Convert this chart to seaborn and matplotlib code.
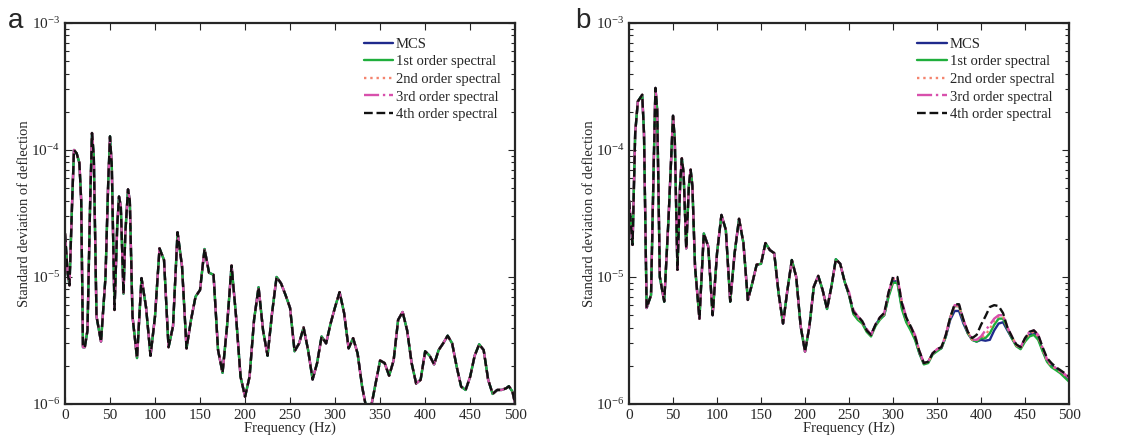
import numpy as np
import pandas as pd
import seaborn as sns
import matplotlib
matplotlib.use("Agg")
import matplotlib.pyplot as plt
from matplotlib.ticker import LogLocator, MultipleLocator

# standard deviation of deflection vs frequency, two load cases (a, b)

freq_a = [0, 3, 5, 8, 10, 13, 16, 18, 20, 22, 25, 28, 30, 32, 35, 40, 45, 48, 50, 52,
          55, 58, 60, 62, 65, 67, 70, 72, 75, 80, 85, 90, 95, 100, 105, 110, 115, 120,
          125, 130, 135, 140, 145, 150, 155, 160, 165, 170, 175, 180, 185, 190, 195,
          200, 205, 210, 215, 220, 225, 230, 235, 240, 245, 250, 255, 260, 265, 270,
          275, 280, 285, 290, 295, 300, 305, 310, 315, 320, 325, 330, 335, 340, 345,
          350, 355, 360, 365, 370, 375, 380, 385, 390, 395, 400, 405, 410, 415, 420,
          425, 430, 435, 440, 445, 450, 455, 460, 465, 470, 475, 480, 485, 490, 493,
          497, 500]
sd_a = [2.2e-5, 1.07e-5, 8.6e-6, 4.0e-5, 1.0e-4, 9.4e-5, 7.9e-5, 4.0e-5, 2.8e-6, 2.8e-6,
        3.8e-6, 4.0e-5, 1.36e-4, 8.9e-5, 4.9e-6, 3.1e-6, 1.0e-5, 5.5e-5, 1.28e-4, 7.4e-5,
        5.5e-6, 2.5e-5, 4.3e-5, 3.6e-5, 7.4e-6, 2.2e-5, 4.9e-5, 4.0e-5, 4.9e-6, 2.3e-6,
        9.8e-6, 5.8e-6, 2.4e-6, 4.9e-6, 1.68e-5, 1.36e-5, 2.8e-6, 4.1e-6, 2.25e-5,
        1.21e-5, 2.74e-6, 4.6e-6, 7.0e-6, 7.9e-6, 1.66e-5, 1.08e-5, 1.04e-5, 2.66e-6,
        1.76e-6, 4.1e-6, 1.23e-5, 4.9e-6, 1.64e-6, 1.14e-6, 1.64e-6, 4.6e-6, 8.3e-6,
        3.8e-6, 2.4e-6, 5.2e-6, 1.0e-5, 8.9e-6, 7.2e-6, 5.7e-6, 2.6e-6, 3.0e-6, 4.0e-6,
        2.66e-6, 1.56e-6, 2.1e-6, 3.4e-6, 3.0e-6, 4.3e-6, 5.8e-6, 7.6e-6, 5.2e-6,
        2.74e-6, 3.3e-6, 2.5e-6, 1.37e-6, 9.0e-7, 9.5e-7, 1.45e-6, 2.2e-6, 2.1e-6,
        1.67e-6, 2.2e-6, 4.6e-6, 5.3e-6, 3.8e-6, 2.1e-6, 1.45e-6, 1.55e-6, 2.6e-6,
        2.4e-6, 2.05e-6, 2.66e-6, 3.0e-6, 3.45e-6, 3.0e-6, 1.97e-6, 1.37e-6, 1.29e-6,
        1.64e-6, 2.4e-6, 2.95e-6, 2.66e-6, 1.55e-6, 1.2e-6, 1.29e-6, 1.29e-6, 1.33e-6,
        1.38e-6, 1.25e-6, 1.0e-6]

# panel b: all series agree below 250 Hz
freq_b_low = [0, 4, 7, 10, 15, 17, 20, 25, 28, 30, 32, 35, 40, 45, 50, 52, 55, 58, 60,
              62, 65, 68, 70, 72, 75, 80, 85, 90, 95, 100, 105, 110, 115, 120, 125,
              130, 135, 140, 145, 150, 155, 160, 165, 170, 175, 180, 185, 190, 195,
              200, 205, 210, 215, 220, 225, 230, 235, 240, 245]
sd_b_low = [4.0e-5, 1.79e-5, 1.36e-4, 2.41e-4, 2.72e-4, 1.36e-4, 5.7e-6, 7.2e-6, 7.4e-5,
            3.08e-4, 2.07e-4, 1.0e-5, 6.4e-6, 3.0e-5, 1.86e-4, 1.2e-4, 1.14e-5, 5.2e-5,
            8.6e-5, 6.6e-5, 1.68e-5, 5.2e-5, 7.0e-5, 5.2e-5, 1.21e-5, 4.7e-6, 2.2e-5,
            1.74e-5, 5.0e-6, 1.54e-5, 3.08e-5, 2.35e-5, 6.4e-6, 1.54e-5, 2.87e-5,
            1.85e-5, 6.6e-6, 8.9e-6, 1.25e-5, 1.27e-5, 1.85e-5, 1.63e-5, 1.54e-5,
            7.4e-6, 4.3e-6, 7.9e-6, 1.36e-5, 1.0e-5, 4.1e-6, 2.58e-6, 4.1e-6, 8.4e-6,
            1.02e-5, 7.9e-6, 5.6e-6, 8.4e-6, 1.38e-5, 1.27e-5, 9.2e-6]

freq_b_high = list(range(250, 505, 5))
sd_b_mcs = [7.2e-6, 5.2e-6, 4.7e-6, 4.4e-6, 3.8e-6, 3.5e-6, 4.2e-6, 4.7e-6, 5.0e-6, 7.2e-6,
            9.3e-6, 9.2e-6, 5.8e-6, 4.5e-6, 3.9e-6, 3.3e-6, 2.5e-6, 2.1e-6, 2.15e-6, 2.5e-6,
            2.65e-6, 2.75e-6, 3.4e-6, 4.6e-6, 5.4e-6, 5.4e-6, 4.3e-6, 3.6e-6, 3.2e-6, 3.1e-6,
            3.2e-6, 3.15e-6, 3.2e-6, 3.8e-6, 4.3e-6, 4.4e-6, 3.8e-6, 3.3e-6, 2.9e-6, 2.75e-6,
            3.2e-6, 3.5e-6, 3.6e-6, 3.3e-6, 2.65e-6, 2.2e-6, 2.0e-6, 1.9e-6, 1.8e-6, 1.7e-6,
            1.55e-6]
sd_b_1st = [7.2e-6, 5.1e-6, 4.6e-6, 4.3e-6, 3.7e-6, 3.4e-6, 4.1e-6, 4.6e-6, 5.0e-6, 7.0e-6,
            9.0e-6, 9.0e-6, 5.6e-6, 4.4e-6, 3.8e-6, 3.2e-6, 2.5e-6, 2.05e-6, 2.1e-6, 2.45e-6,
            2.6e-6, 2.75e-6, 3.4e-6, 4.8e-6, 5.9e-6, 5.9e-6, 4.5e-6, 3.6e-6, 3.2e-6, 3.1e-6,
            3.3e-6, 3.3e-6, 3.6e-6, 4.2e-6, 4.7e-6, 4.7e-6, 3.9e-6, 3.3e-6, 2.85e-6, 2.7e-6,
            3.1e-6, 3.4e-6, 3.5e-6, 3.2e-6, 2.6e-6, 2.15e-6, 1.95e-6, 1.85e-6, 1.75e-6,
            1.62e-6, 1.5e-6]
sd_b_2nd = [7.4e-6, 5.3e-6, 4.8e-6, 4.4e-6, 3.8e-6, 3.5e-6, 4.2e-6, 4.7e-6, 5.1e-6, 7.4e-6,
            9.6e-6, 9.6e-6, 6.2e-6, 4.7e-6, 4.0e-6, 3.4e-6, 2.6e-6, 2.1e-6, 2.15e-6, 2.5e-6,
            2.7e-6, 2.8e-6, 3.5e-6, 4.8e-6, 5.9e-6, 5.9e-6, 4.5e-6, 3.7e-6, 3.2e-6, 3.2e-6,
            3.3e-6, 3.5e-6, 3.9e-6, 4.5e-6, 4.9e-6, 4.9e-6, 4.0e-6, 3.4e-6, 2.9e-6, 2.75e-6,
            3.2e-6, 3.6e-6, 3.7e-6, 3.4e-6, 2.7e-6, 2.2e-6, 2.0e-6, 1.9e-6, 1.8e-6, 1.7e-6,
            1.58e-6]
sd_b_3rd = [7.6e-6, 5.5e-6, 4.9e-6, 4.5e-6, 3.9e-6, 3.5e-6, 4.2e-6, 4.8e-6, 5.2e-6, 7.6e-6,
            9.8e-6, 9.8e-6, 6.5e-6, 4.8e-6, 4.1e-6, 3.5e-6, 2.6e-6, 2.1e-6, 2.15e-6, 2.5e-6,
            2.7e-6, 2.8e-6, 3.5e-6, 4.8e-6, 6.0e-6, 6.0e-6, 4.6e-6, 3.7e-6, 3.2e-6, 3.2e-6,
            3.4e-6, 3.8e-6, 4.2e-6, 4.7e-6, 5.0e-6, 5.0e-6, 4.0e-6, 3.4e-6, 2.9e-6, 2.8e-6,
            3.3e-6, 3.7e-6, 3.8e-6, 3.5e-6, 2.75e-6, 2.25e-6, 2.05e-6, 1.92e-6, 1.82e-6,
            1.72e-6, 1.6e-6]
sd_b_4th = [7.3e-6, 5.3e-6, 4.9e-6, 4.5e-6, 3.8e-6, 3.5e-6, 4.2e-6, 4.8e-6, 5.2e-6, 7.6e-6,
            1.0e-5, 1.0e-5, 6.2e-6, 4.8e-6, 4.1e-6, 3.4e-6, 2.6e-6, 2.1e-6, 2.15e-6, 2.5e-6,
            2.7e-6, 2.8e-6, 3.5e-6, 4.8e-6, 6.1e-6, 6.1e-6, 4.6e-6, 3.7e-6, 3.3e-6, 3.5e-6,
            4.2e-6, 4.9e-6, 5.8e-6, 6.0e-6, 5.9e-6, 5.2e-6, 4.0e-6, 3.4e-6, 2.95e-6, 2.8e-6,
            3.3e-6, 3.7e-6, 3.8e-6, 3.5e-6, 2.8e-6, 2.3e-6, 2.1e-6, 1.95e-6, 1.85e-6,
            1.75e-6, 1.65e-6]

labels = ["MCS", "1st order spectral", "2nd order spectral", "3rd order spectral",
          "4th order spectral"]
colors = ["#1f2a8c", "#1fae3c", "#f4846e", "#d850ac", "#111111"]
styles = ["-", "-", ":", "-.", "--"]

sns.set_style("ticks")
plt.rcParams["font.family"] = ["Liberation Serif", "DejaVu Serif"]
plt.rcParams["mathtext.fontset"] = "stix"

fig = plt.figure(figsize=(11.34, 4.42), dpi=100)
ax_a = fig.add_axes([0.0573, 0.086, 0.397, 0.862])
ax_b = fig.add_axes([0.5547, 0.086, 0.388, 0.862])

# panel a: the five methods overlap completely
for lab, col, ls in zip(labels, colors, styles):
    sns.lineplot(x=freq_a, y=sd_a, ax=ax_a, color=col, linestyle=ls, lw=1.7,
                 label=lab, sort=False)

series_b = [sd_b_mcs, sd_b_1st, sd_b_2nd, sd_b_3rd, sd_b_4th]
for tail, lab, col, ls in zip(series_b, labels, colors, styles):
    sns.lineplot(x=freq_b_low + freq_b_high, y=sd_b_low + tail, ax=ax_b, color=col,
                 linestyle=ls, lw=1.7, label=lab, sort=False)

for ax in (ax_a, ax_b):
    ax.set_yscale("log")
    ax.set_xlim(0, 500)
    ax.set_ylim(1e-6, 1e-3)
    ax.xaxis.set_major_locator(MultipleLocator(50))
    ax.yaxis.set_major_locator(LogLocator(base=10))
    ax.yaxis.set_minor_locator(LogLocator(base=10, subs=np.arange(2, 10)))
    ax.tick_params(which="both", direction="in", top=True, right=True, labelsize=11,
                   width=0.8)
    ax.tick_params(which="major", length=5)
    ax.tick_params(which="minor", length=3)
    for sp in ax.spines.values():
        sp.set_linewidth(1.6)
    ax.set_xlabel("Frequency (Hz)", fontsize=10.5, labelpad=0)
    ax.set_ylabel("Standard deviation of deflection", fontsize=10.5, labelpad=0)
    ax.legend(loc="upper right", frameon=False, fontsize=10.5, handlelength=2.0,
              handletextpad=0.2, labelspacing=0.3, borderaxespad=0.6)

fig.text(0.007, 1 - 28 / 442, "a", fontsize=20, family="Liberation Sans",
         va="baseline", ha="left")
fig.text(0.507, 1 - 28 / 442, "b", fontsize=20, family="Liberation Sans",
         va="baseline", ha="left")

fig.savefig("out.png", dpi=100)
